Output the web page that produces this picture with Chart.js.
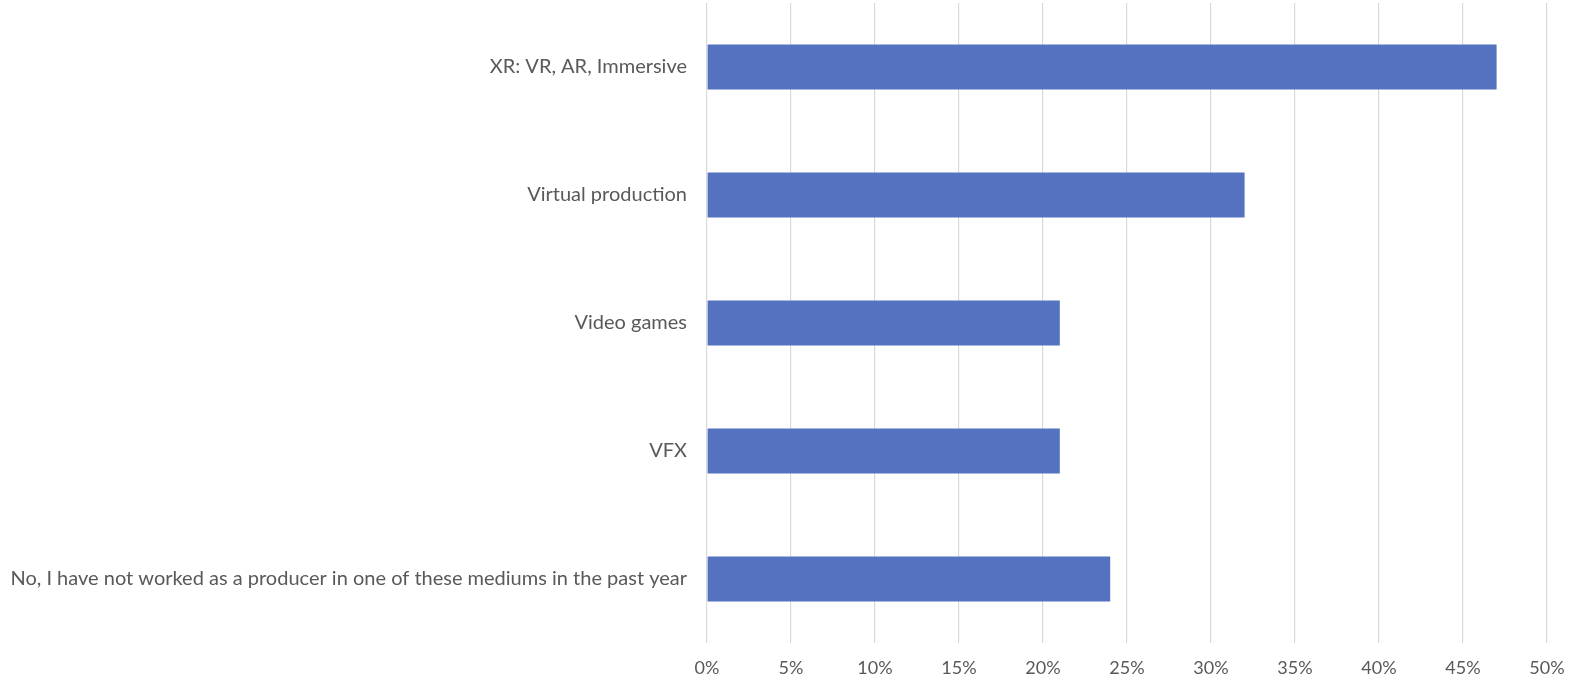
<!DOCTYPE html>
<html lang="en">
<head>
  <meta charset="UTF-8">
  <title>Producer mediums</title>
  <script src="https://cdn.jsdelivr.net/npm/chart.js"></script>
  <style>
    body { margin: 0; background: #ffffff; }
    #wrap { width: 1569px; height: 681px; }
  </style>
</head>
<body>
  <div id="wrap"><canvas id="chart" width="1569" height="681"></canvas></div>
  <script>
    const categories = [
      "XR: VR, AR, Immersive",
      "Virtual production",
      "Video games",
      "VFX",
      "No, I have not worked as a producer in one of these mediums in the past year"
    ];
    const shares = [47, 32, 21, 21, 24];
    const xTicks = [0, 5, 10, 15, 20, 25, 30, 35, 40, 45, 50];

    const ctx = document.getElementById("chart").getContext("2d");
    new Chart(ctx, {
      type: "bar",
      data: {
        labels: categories,
        datasets: [{
          data: shares,
          backgroundColor: "#5572C0",
          barPercentage: 0.35,
          categoryPercentage: 1
        }]
      },
      options: {
        indexAxis: "y",
        responsive: false,
        animation: false,
        layout: { padding: { top: 3, right: 22, left: 0, bottom: 0 } },
        plugins: { legend: { display: false }, tooltip: { enabled: false } },
        scales: {
          x: {
            min: 0,
            max: 50,
            afterBuildTicks: s => { s.ticks = xTicks.map(v => ({ value: v })); },
            afterFit: s => { s.height = 38; s.paddingLeft = 0; s.paddingRight = 0; },
            grid: { color: "#d9d9d9", lineWidth: 1.2, drawTicks: false },
            border: { display: false },
            ticks: {
              color: "#595959",
              font: { family: "Lato", size: 18 },
              padding: 14,
              callback: v => v + "%"
            }
          },
          y: {
            afterFit: s => { s.width = 707; s.paddingTop = 0; s.paddingBottom = 0; },
            grid: { display: false },
            border: { display: false },
            ticks: {
              color: "#595959",
              font: { family: "Lato", size: 20 },
              padding: 12
            }
          }
        }
      }
    });
  </script>
</body>
</html>
